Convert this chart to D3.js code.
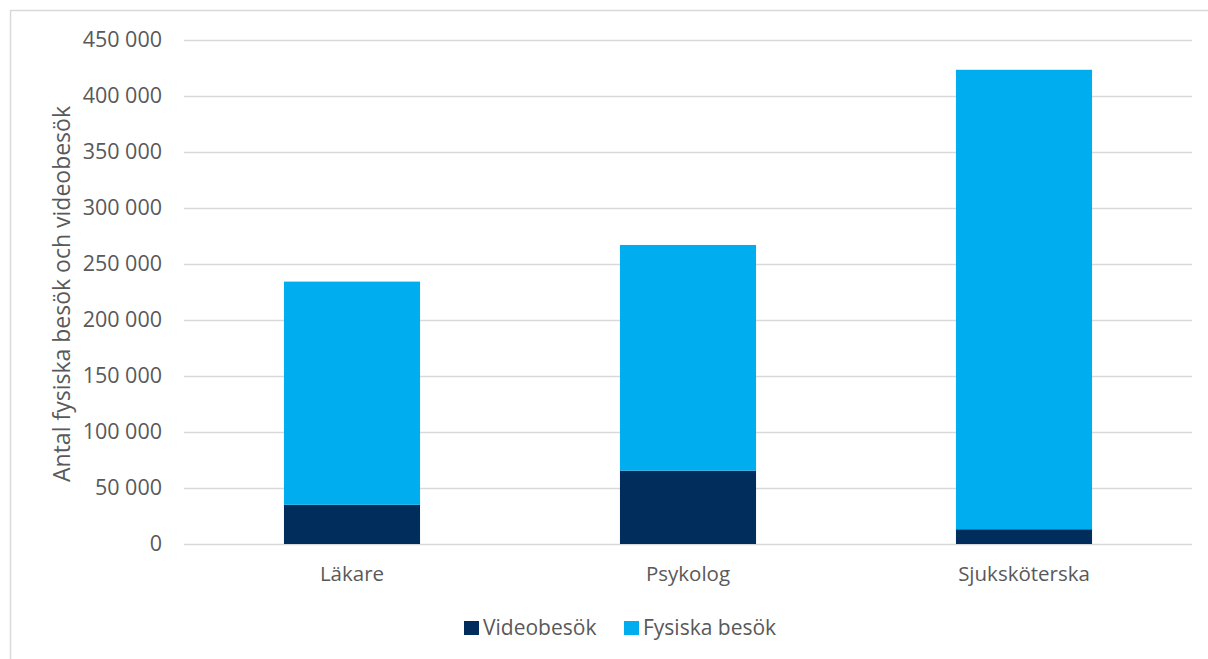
<!DOCTYPE html>
<html>
<head>
<meta charset="utf-8">
<script src="https://cdn.jsdelivr.net/npm/d3@7"></script>
<style>
  html, body { margin: 0; padding: 0; background: #fff; }
  svg { display: block; font-family: "Open Sans", "Noto Sans", sans-serif; }
</style>
</head>
<body>
<svg id="chart" width="1208" height="659"></svg>
<script>
// Besök per yrkesgrupp: videobesök och fysiska besök
const categories = ["Läkare", "Psykolog", "Sjuksköterska"];
const videoVisits = [35000, 65500, 13200];
const physicalVisits = [199300, 201500, 410200];
const seriesNames = ["Videobesök", "Fysiska besök"];
const seriesColors = ["#002D5B", "#00AEEF"];
const yTicks = [0, 50000, 100000, 150000, 200000, 250000, 300000, 350000, 400000, 450000];
const yTitle = "Antal fysiska besök och videobesök";

const svg = d3.select("#chart");
const W = 1208, H = 659;
const plot = { left: 184, right: 1192, top: 40, bottom: 544 };
const textColor = "#595959";
const gridColor = "#D9D9D9";

// outer frame
svg.append("rect")
  .attr("x", 10.5).attr("y", 10.5)
  .attr("width", W + 10).attr("height", H + 10)
  .attr("fill", "none").attr("stroke", gridColor).attr("stroke-width", 1.5);

const x = d3.scaleBand()
  .domain(categories)
  .range([plot.left, plot.right])
  .paddingInner(0.595)
  .paddingOuter(0.2975);

const y = d3.scaleLinear()
  .domain([0, 450000])
  .range([plot.bottom, plot.top]);

const fmt = v => d3.format(",")(v).replace(/,/g, " ");

// gridlines + y labels
const yAxis = d3.axisLeft(y)
  .tickValues(yTicks)
  .tickSize(-(plot.right - plot.left))
  .tickPadding(22)
  .tickFormat(fmt);

const gy = svg.append("g")
  .attr("transform", `translate(${plot.left},0)`)
  .call(yAxis);
gy.select(".domain").remove();
gy.selectAll(".tick line").attr("stroke", gridColor).attr("stroke-width", 1.5);
gy.selectAll(".tick text")
  .attr("fill", textColor)
  .style("font-size", "21.5px")
  .style("font-family", "'Open Sans', sans-serif");

// stacked bars
const rows = categories.map((c, i) => ({ cat: c, video: videoVisits[i], physical: physicalVisits[i] }));
const stack = d3.stack().keys(["video", "physical"]);
const layers = stack(rows);

svg.append("g").selectAll("g")
  .data(layers)
  .join("g")
  .attr("fill", (d, i) => seriesColors[i])
  .selectAll("rect")
  .data(d => d)
  .join("rect")
  .attr("x", d => x(d.data.cat))
  .attr("width", x.bandwidth())
  .attr("y", d => y(d[1]))
  .attr("height", d => y(d[0]) - y(d[1]));

// x axis labels
const xAxis = d3.axisBottom(x).tickSize(0).tickPadding(22);
const gx = svg.append("g")
  .attr("transform", `translate(0,${plot.bottom})`)
  .call(xAxis);
gx.select(".domain").remove();
gx.selectAll(".tick text")
  .attr("fill", textColor)
  .style("font-size", "20.5px")
  .style("font-family", "'Open Sans', sans-serif");

// y axis title
svg.append("text")
  .attr("transform", `translate(70,${(plot.top + plot.bottom) / 2 + 2}) rotate(-90)`)
  .attr("text-anchor", "middle")
  .attr("fill", textColor)
  .style("font-size", "23px")
  .text(yTitle);

// legend
const legendItems = [
  { name: seriesNames[0], color: seriesColors[0], x: 464 },
  { name: seriesNames[1], color: seriesColors[1], x: 624 }
];
const lg = svg.append("g");
legendItems.forEach(it => {
  lg.append("rect")
    .attr("x", it.x).attr("y", 621)
    .attr("width", 15).attr("height", 14)
    .attr("fill", it.color);
  lg.append("text")
    .attr("x", it.x + 19).attr("y", 635)
    .attr("fill", textColor)
    .style("font-size", "21px")
    .text(it.name);
});
</script>
</body>
</html>
